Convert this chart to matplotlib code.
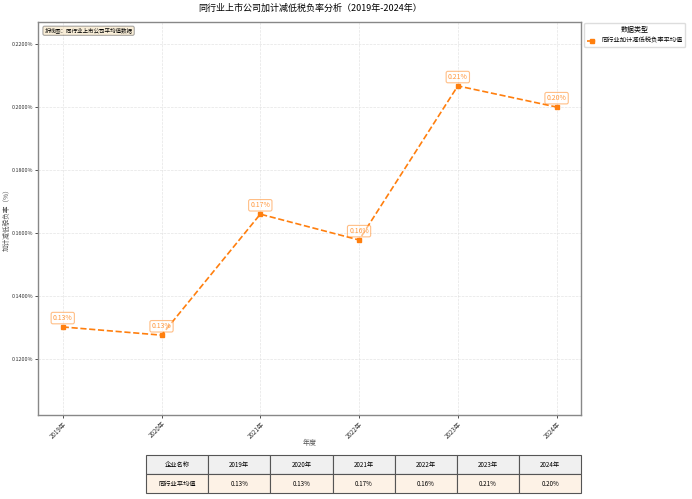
import matplotlib.pyplot as plt
import numpy as np

plt.rcParams['font.family'] = ['Noto Sans CJK SC', 'DejaVu Sans']
plt.rcParams['axes.unicode_minus'] = False

# data
years = ['2019年', '2020年', '2021年', '2022年', '2023年', '2024年']
avg_rate = [0.1302, 0.1276, 0.1660, 0.1578, 0.2067, 0.2000]
series_name = '同行业加计减低税负率平均值'
row_name = '同行业平均值'

color = '#ff7f0e'

fig = plt.figure(figsize=(6.92, 4.99), dpi=100)
ax = fig.add_axes([0.055, 0.168, 0.785, 0.788])

x = np.arange(len(years))
ax.plot(x, avg_rate, linestyle='--', color=color, linewidth=1.2,
        marker='s', markersize=3.5, label=series_name)

for xi, v in zip(x, avg_rate):
    ax.annotate(f'{v:.2f}%', (xi, v), xytext=(0, 3.5), textcoords='offset points',
                ha='center', va='bottom', fontsize=5, color=color, alpha=0.8,
                bbox=dict(boxstyle='round,pad=0.25', fc='white', ec=color, alpha=0.5, lw=0.8))

ax.set_xticks(x)
ax.set_xticklabels(years, rotation=45, ha='right', rotation_mode='anchor', fontsize=4.5)
ax.set_ylim(0.1022, 0.227)
yt = [0.12, 0.14, 0.16, 0.18, 0.20, 0.22]
ax.set_yticks(yt)
ax.set_yticklabels([f'{t:.4f}%' for t in yt], fontsize=3.9)
ax.tick_params(length=2, width=0.6, colors='#333333', pad=1.5)
ax.grid(True, linestyle='--', color='#dddddd', linewidth=0.5, alpha=0.8)
for s in ax.spines.values():
    s.set_color('#888888')
    s.set_linewidth(1.0)

ax.set_xlabel('年度', fontsize=5, color='#555555', va='center')
ax.xaxis.set_label_coords(0.5, -0.071)
ax.set_ylabel('加计减低税负率（%）', fontsize=4.8, color='#555555', va='center')
ax.yaxis.set_label_coords(-0.058, 0.5)
ax.set_title('同行业上市公司加计减低税负率分析（2019年-2024年）', fontsize=6.5, pad=8)

ax.text(0.012, 0.985, '折线图：同行业上市公司平均值数据', transform=ax.transAxes,
        ha='left', va='top', fontsize=4,
        bbox=dict(boxstyle='round,pad=0.3', fc='wheat', ec='#555555', alpha=0.5, lw=0.8))

leg = ax.legend(loc='upper left', bbox_to_anchor=(1.0, 1.005), fontsize=4.5,
                title='数据类型', title_fontsize=5, frameon=True, framealpha=1,
                edgecolor='#dddddd', handlelength=1.5, borderpad=0.4)

# table
cell_text = [[row_name] + [f'{v:.2f}%' for v in avg_rate]]
col_labels = ['企业名称'] + years
tb = fig.add_axes([0.211, 0.012, 0.629, 0.076])
tb.axis('off')
table = tb.table(cellText=cell_text, colLabels=col_labels, loc='center',
                 cellLoc='center', bbox=[0, 0, 1, 1])
table.auto_set_font_size(False)
table.set_fontsize(4.5)
for (r, c), cell in table.get_celld().items():
    cell.set_edgecolor('#555555')
    cell.set_linewidth(0.8)
    if r == 0:
        cell.set_facecolor('#f0f0f0')
    else:
        cell.set_facecolor('#fdf2e6')

fig.savefig('out.png', dpi=100)
